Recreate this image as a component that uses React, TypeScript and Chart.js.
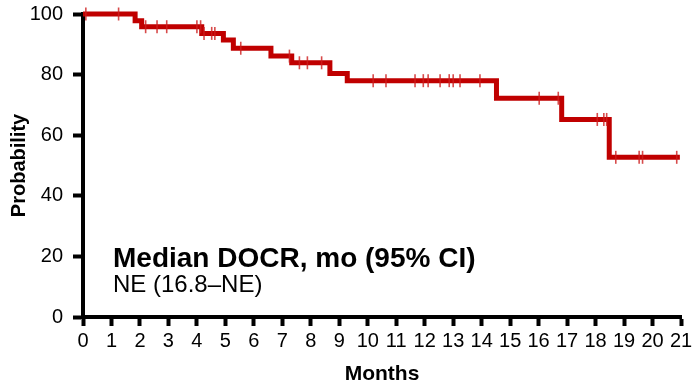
import React, { useEffect, useRef } from "react";
import { Chart, registerables } from "chart.js";

Chart.register(...registerables);

// Kaplan-Meier event times (months) and survival (%) after each step
const eventTimes = [0, 1.83, 2.06, 4.17, 4.93, 5.28, 6.6, 7.33, 8.67, 9.28, 14.52, 16.81, 18.48, 20.96];
const survival = [100, 97.8, 95.8, 93.6, 91.4, 88.7, 86.1, 83.9, 80.4, 78.0, 72.2, 65.2, 52.7, 52.7];

// Censoring times (months)
const censorTimes = [
  0.1, 1.25, 2.2, 2.6, 2.94, 4.0, 4.13, 4.25, 4.52, 4.63, 5.54, 7.25, 7.6, 7.88, 8.38,
  10.19, 10.64, 11.66, 11.95, 12.12, 12.54, 12.86, 13.0, 13.24, 13.94, 16.02, 16.69,
  18.06, 18.29, 18.39, 18.71, 19.53, 19.65, 20.85,
];

const xTicks = Array.from({ length: 22 }, (_, i) => i);
const yTicks = [0, 20, 40, 60, 80, 100];

const xTitle = "Months";
const yTitle = "Probability";
const noteTitle = "Median DOCR, mo (95% CI)";
const noteValue = "NE (16.8–NE)";

const RED = "#C00000";
const FONT = "'Liberation Sans', Arial, Helvetica, sans-serif";

function survivalAt(t: number): number {
  let s = survival[0];
  for (let i = 0; i < eventTimes.length; i++) {
    if (eventTimes[i] <= t) s = survival[i];
  }
  return s;
}

export default function App() {
  const canvasRef = useRef<HTMLCanvasElement | null>(null);

  useEffect(() => {
    document.body.style.margin = "0";
    const canvas = canvasRef.current;
    if (!canvas) return;
    const chart = new Chart(canvas, {
      type: "line",
      data: {
        datasets: [
          {
            type: "scatter",
            label: "Censored",
            data: censorTimes.map((t) => ({ x: t, y: survivalAt(t) })),
            pointStyle: "line",
            rotation: 90,
            radius: 6.5,
            pointBorderWidth: 1.6,
            borderColor: "rgba(205,30,30,0.8)",
            backgroundColor: "rgba(205,30,30,0.8)",
            pointBorderColor: "rgba(205,30,30,0.8)",
            showLine: false,
            clip: false,
          } as any,
          {
            label: "KM",
            data: eventTimes.map((t, i) => ({ x: t, y: survival[i] })),
            stepped: "before",
            borderColor: RED,
            borderWidth: 5,
            pointRadius: 0,
            fill: false,
            clip: false,
          } as any,
        ],
      },
      options: {
        animation: false,
        responsive: false,
        maintainAspectRatio: false,
        layout: { padding: { left: 0, right: 15, top: 14, bottom: 0 } },
        plugins: { legend: { display: false }, tooltip: { enabled: false } },
        scales: {
          x: {
            type: "linear",
            min: 0,
            max: 21,
            afterBuildTicks: (axis: any) => {
              axis.ticks = xTicks.map((v) => ({ value: v }));
            },
            afterFit: (axis: any) => {
              axis.height = 68;
              axis.paddingLeft = 0;
              axis.paddingRight = 0;
            },
            ticks: {
              color: "#000",
              font: { family: FONT, size: 20 },
              padding: 3,
              maxRotation: 0,
              autoSkip: false,
            },
            grid: {
              drawOnChartArea: false,
              drawTicks: true,
              tickLength: 9,
              tickWidth: 4,
              tickColor: "#000",
            },
            border: { display: true, color: "#000", width: 4 },
            title: {
              display: true,
              text: xTitle,
              color: "#000",
              font: { family: FONT, size: 21, weight: "bold", lineHeight: 1 },
              padding: { top: 0, bottom: 0 },
            },
          },
          y: {
            type: "linear",
            min: 0,
            max: 100,
            afterBuildTicks: (axis: any) => {
              axis.ticks = yTicks.map((v) => ({ value: v }));
            },
            afterFit: (axis: any) => {
              axis.width = 83;
              axis.paddingTop = 0;
              axis.paddingBottom = 0;
            },
            ticks: {
              color: "#000",
              font: { family: FONT, size: 20 },
              padding: 10,
            },
            grid: {
              drawOnChartArea: false,
              drawTicks: true,
              tickLength: 10,
              tickWidth: 4,
              tickColor: "#000",
            },
            border: { display: true, color: "#000", width: 4 },
            title: {
              display: true,
              text: yTitle,
              color: "#000",
              font: { family: FONT, size: 20, weight: "bold", lineHeight: 1.2 },
              padding: { top: 7, bottom: 0 },
            },
          },
        },
      } as any,
    });
    return () => chart.destroy();
  }, []);

  return (
    <div style={{ position: "relative", width: 696, height: 385, background: "#fff" }}>
      <canvas ref={canvasRef} width={696} height={385} style={{ display: "block" }} />
      <div
        style={{
          position: "absolute",
          left: 113,
          top: 244,
          fontFamily: FONT,
          fontWeight: "bold",
          fontSize: 28,
          lineHeight: "28px",
          color: "#000",
          whiteSpace: "nowrap",
        }}
      >
        {noteTitle}
      </div>
      <div
        style={{
          position: "absolute",
          left: 113,
          top: 272,
          fontFamily: FONT,
          fontSize: 24,
          lineHeight: "24px",
          color: "#000",
          whiteSpace: "nowrap",
        }}
      >
        {noteValue}
      </div>
    </div>
  );
}
